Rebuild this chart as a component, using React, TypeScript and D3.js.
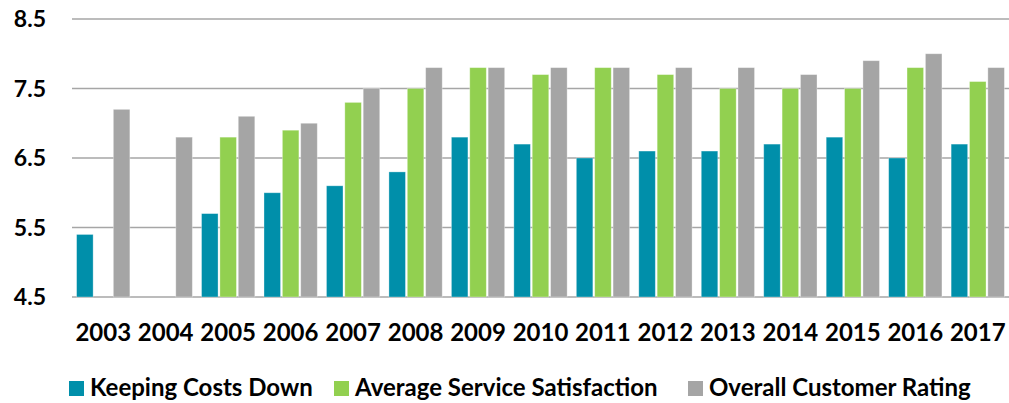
import React from "react";
import * as d3 from "d3";

const years = ["2003","2004","2005","2006","2007","2008","2009","2010","2011","2012","2013","2014","2015","2016","2017"];
const keepingCostsDown: (number | null)[] = [5.4, null, 5.7, 6.0, 6.1, 6.3, 6.8, 6.7, 6.5, 6.6, 6.6, 6.7, 6.8, 6.5, 6.7];
const averageServiceSatisfaction: (number | null)[] = [null, null, 6.8, 6.9, 7.3, 7.5, 7.8, 7.7, 7.8, 7.7, 7.5, 7.5, 7.5, 7.8, 7.6];
const overallCustomerRating: (number | null)[] = [7.2, 6.8, 7.1, 7.0, 7.5, 7.8, 7.8, 7.8, 7.8, 7.8, 7.8, 7.7, 7.9, 8.0, 7.8];
const seriesNames = ["Keeping Costs Down", "Average Service Satisfaction", "Overall Customer Rating"];
const seriesColors = ["#008FAA", "#92D050", "#A5A5A5"];
const yTicks = [4.5, 5.5, 6.5, 7.5, 8.5];

const W = 1009, H = 403;
const FONT = "Lato, 'Open Sans', sans-serif";

export default function App() {
  const seriesData = [keepingCostsDown, averageServiceSatisfaction, overallCustomerRating];
  const x = d3.scaleBand<string>().domain(years).range([72, 1009]).padding(0);
  const xs = d3.scaleBand<string>().domain(seriesNames).range([0, x.bandwidth()]).paddingInner(0.1).paddingOuter(0.25);
  const y = d3.scaleLinear().domain([4.5, 8.5]).range([297, 19]);

  const legendX = [69, 334, 688];

  return (
    <svg width={W} height={H} style={{ position: "absolute", left: 0, top: 0, background: "#fff" }} fontFamily={FONT}>
      {yTicks.map((t) => (
        <g key={t}>
          <line x1={72} x2={1009} y1={y(t)} y2={y(t)} stroke="#A6A6A6" strokeWidth={1.5} />
          <text x={46} y={y(t)} dy="0.36em" textAnchor="end" fontSize={23} fontWeight={700} fill="#000">
            {t.toFixed(1)}
          </text>
        </g>
      ))}
      {years.map((yr, i) => (
        <g key={yr} transform={`translate(${x(yr)},0)`}>
          {seriesData.map((s, si) => {
            const v = s[i];
            if (v == null) return null;
            return (
              <rect
                key={si}
                x={xs(seriesNames[si])}
                y={y(v)}
                width={xs.bandwidth()}
                height={y(4.5) - y(v)}
                fill={seriesColors[si]}
                stroke="#fff"
                strokeOpacity={0.4}
                strokeWidth={0.8}
              />
            );
          })}
          <text x={x.bandwidth() / 2} y={341} textAnchor="middle" fontSize={24} fontWeight={700} fill="#000">
            {yr}
          </text>
        </g>
      ))}
      {seriesNames.map((n, i) => (
        <g key={n}>
          <rect x={legendX[i]} y={381} width={15} height={15} fill={seriesColors[i]} />
          <text x={legendX[i] + 21} y={396} fontSize={24} fontWeight={700} fill="#000">
            {n}
          </text>
        </g>
      ))}
    </svg>
  );
}
